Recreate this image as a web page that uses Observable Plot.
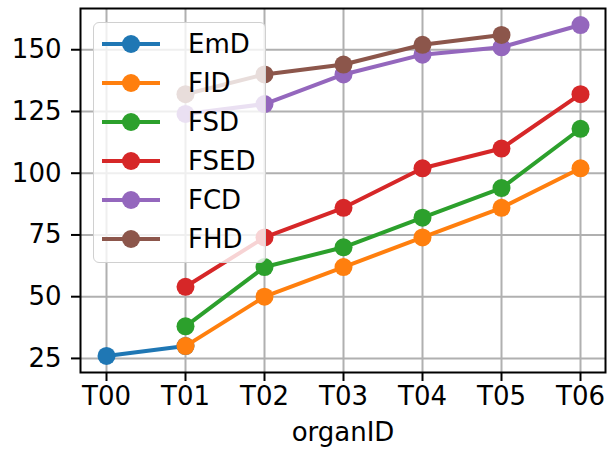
<!DOCTYPE html>
<html>
<head>
<meta charset="utf-8">
<script src="https://cdn.jsdelivr.net/npm/d3@7"></script>
<script src="https://cdn.jsdelivr.net/npm/@observablehq/plot@0.6"></script>
<style>
  html, body { margin: 0; padding: 0; background: #fff; }
  #wrap { position: relative; width: 607px; height: 451px; font-family: "DejaVu Sans", sans-serif; }
  #legend { position: absolute; left: 93px; top: 22px; width: 173px; height: 241px;
    background: rgba(255,255,255,0.8); border: 1.5px solid #d0d0d0; border-radius: 6px; box-sizing: border-box; }
  .item { position: absolute; left: 8px; height: 30px; display: flex; align-items: center; }
  .item span { font-size: 26px; color: #000; margin-left: 28px; }
</style>
</head>
<body>
<div id="wrap"></div>
<script>
const organIDs = ["T00", "T01", "T02", "T03", "T04", "T05", "T06"];
const seriesNames = ["EmD", "FID", "FSD", "FSED", "FCD", "FHD"];
const colors = ["#1f77b4", "#ff7f0e", "#2ca02c", "#d62728", "#9467bd", "#8c564b"];
const EmD  = [26, 30, null, null, null, null, null];
const FID  = [null, 30, 50, 62, 74, 86, 102];
const FSD  = [null, 38, 62, 70, 82, 94, 118];
const FSED = [null, 54, 74, 86, 102, 110, 132];
const FCD  = [null, 124, 128, 140, 148, 151, 160];
const FHD  = [null, 132, 140, 144, 152, 156, null];
const yTicks = [25, 50, 75, 100, 125, 150];

const seriesValues = [EmD, FID, FSD, FSED, FCD, FHD];
const data = [];
seriesNames.forEach((s, i) => {
  seriesValues[i].forEach((v, j) => {
    if (v != null) data.push({series: s, organID: organIDs[j], value: v});
  });
});

const marks = [
  Plot.gridX(organIDs, {stroke: "#b0b0b0", strokeOpacity: 1, strokeWidth: 2}),
  Plot.gridY(yTicks, {stroke: "#b0b0b0", strokeOpacity: 1, strokeWidth: 2}),
];
seriesNames.forEach((s) => {
  const d = data.filter(r => r.series === s);
  marks.push(Plot.line(d, {x: "organID", y: "value", stroke: "series", strokeWidth: 4}));
  marks.push(Plot.dot(d, {x: "organID", y: "value", fill: "series", r: 9}));
});
marks.push(
  Plot.axisX(organIDs, {tickSize: 9, tickPadding: 5, fontSize: 26, strokeWidth: 2,
    label: "organID", labelAnchor: "center", labelArrow: "none", labelOffset: 68}),
  Plot.axisY(yTicks, {tickSize: 9, tickPadding: 10, fontSize: 26, strokeWidth: 2, label: null}),
  Plot.frame({stroke: "black", strokeWidth: 2})
);

const chart = Plot.plot({
  width: 607,
  height: 451,
  marginLeft: 80,
  marginRight: 2,
  marginTop: 8,
  marginBottom: 79,
  style: {fontFamily: "DejaVu Sans, sans-serif", fontSize: "26px", color: "#000", background: "#fff"},
  x: {type: "point", domain: organIDs, padding: 0.3},
  y: {domain: [19.3, 166.7]},
  color: {domain: seriesNames, range: colors},
  marks
});
const wrap = document.getElementById("wrap");
wrap.appendChild(chart);

const legend = document.createElement("div");
legend.id = "legend";
seriesNames.forEach((s, i) => {
  const item = document.createElement("div");
  item.className = "item";
  item.style.top = (6 + i * 39) + "px";
  item.innerHTML = `<svg width="58" height="30"><line x1="0" y1="15" x2="58" y2="15" stroke="${colors[i]}" stroke-width="4"/><circle cx="29" cy="15" r="9" fill="${colors[i]}"/></svg><span>${s}</span>`;
  legend.appendChild(item);
});
wrap.appendChild(legend);
</script>
</body>
</html>
